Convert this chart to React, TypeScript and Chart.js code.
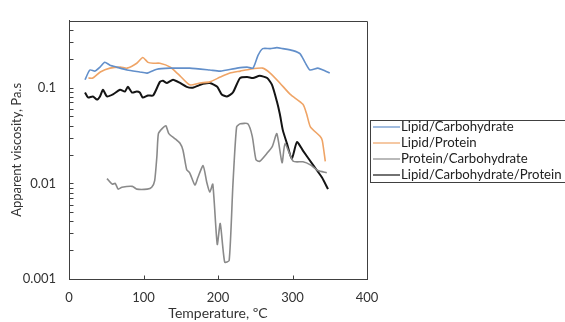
import { useEffect, useRef } from "react";
import { Chart, registerables } from "chart.js";

Chart.register(...registerables);

const seriesNames = [
  "Lipid/Carbohydrate",
  "Lipid/Protein",
  "Protein/Carbohydrate",
  "Lipid/Carbohydrate/Protein",
];
const seriesColors = ["#628fca", "#efa466", "#8a8a8a", "#141414"];
const seriesWidths = [1.6, 1.6, 1.6, 2];

const lcTemp = [21.5, 28, 35, 41.6, 48, 55, 64, 78, 95, 105, 118, 135.6, 149, 162, 189, 203, 225.5, 239, 247, 253.7, 260, 270, 279, 287, 300.7, 310, 316.8, 323.5, 334, 341, 350];
const lcVisc = [0.121, 0.153, 0.149, 0.164, 0.184, 0.172, 0.164, 0.153, 0.146, 0.142, 0.156, 0.16, 0.16, 0.16, 0.153, 0.149, 0.16, 0.164, 0.16, 0.217, 0.256, 0.256, 0.262, 0.256, 0.244, 0.227, 0.184, 0.153, 0.16, 0.153, 0.142];

const lpTemp = [26, 32, 42, 55, 69, 78, 91, 99, 106, 113, 122, 136, 145, 149, 162, 176, 189, 203, 216, 230, 243, 260, 270, 283, 297, 314, 319, 324, 337, 340, 344];
const lpVisc = [0.126, 0.126, 0.146, 0.16, 0.164, 0.16, 0.18, 0.207, 0.184, 0.18, 0.18, 0.164, 0.142, 0.133, 0.107, 0.112, 0.115, 0.129, 0.142, 0.149, 0.156, 0.16, 0.142, 0.112, 0.085, 0.067, 0.053, 0.039, 0.031, 0.028, 0.017];

const pcTemp = [51, 58, 62, 66, 71, 85, 91, 105, 111, 115, 118, 120, 125, 130, 134, 142, 149, 153, 158, 162, 169, 173, 180, 185, 189, 193, 199, 203, 209, 215, 220, 225, 230, 240, 246, 251, 256, 266, 273, 279, 286, 290, 301, 314, 324, 334, 346];
const pcVisc = [0.0112, 0.0098, 0.01, 0.0087, 0.0091, 0.0093, 0.0087, 0.0087, 0.0091, 0.0107, 0.0193, 0.0331, 0.0373, 0.04, 0.0331, 0.0294, 0.0262, 0.0222, 0.0139, 0.0129, 0.0096, 0.0115, 0.0153, 0.0102, 0.0081, 0.0098, 0.0023, 0.0038, 0.0015, 0.00156, 0.0096, 0.039, 0.0419, 0.0419, 0.031, 0.0176, 0.017, 0.0207, 0.0244, 0.0331, 0.0164, 0.026, 0.017, 0.0168, 0.0156, 0.0136, 0.0129];

const lcpTemp = [21.5, 25.5, 32, 37.6, 41.6, 45.6, 51, 59, 68.5, 75, 79, 84.6, 91, 95, 99, 106, 113, 122, 126, 131.5, 139.6, 149, 158, 166, 176, 180, 189, 199, 205, 212, 220, 229.5, 239, 247, 256, 266, 272.5, 279, 283, 287, 292.6, 299, 306, 314, 327.5, 339.6, 347.6];
const lcpVisc = [0.089, 0.079, 0.081, 0.075, 0.081, 0.095, 0.081, 0.085, 0.095, 0.091, 0.102, 0.089, 0.091, 0.089, 0.079, 0.083, 0.083, 0.115, 0.118, 0.112, 0.121, 0.112, 0.102, 0.1, 0.107, 0.11, 0.112, 0.102, 0.085, 0.081, 0.089, 0.126, 0.129, 0.126, 0.133, 0.126, 0.107, 0.072, 0.053, 0.036, 0.026, 0.018, 0.027, 0.022, 0.0156, 0.0115, 0.0087];

const xTickValues = [0, 100, 200, 300, 400];
const yLabelValues = [0.001, 0.01, 0.1];
const yMin = 0.001;
const yMax = 0.5;

const FONT = "Lato";
const TEXT = "#333333";
const AXIS = "#404040";

export default function App() {
  const ref = useRef<HTMLCanvasElement>(null);

  useEffect(() => {
    document.body.style.margin = "0";
    const toPts = (t: number[], v: number[]) => t.map((x, i) => ({ x, y: v[i] }));
    const temps = [lcTemp, lpTemp, pcTemp, lcpTemp];
    const viscs = [lcVisc, lpVisc, pcVisc, lcpVisc];

    const yTickList: number[] = [];
    for (let d = yMin; d < yMax * 1.01; d *= 10) {
      for (let k = 1; k <= 9; k++) {
        const v = Number((d * k).toPrecision(3));
        if (v <= yMax + 1e-12) yTickList.push(v);
      }
    }

    const framePlugin = {
      id: "frame",
      afterDraw(chart: any) {
        const { ctx, chartArea } = chart;
        const xs = chart.scales.x;
        const ys = chart.scales.y;
        ctx.save();
        ctx.strokeStyle = AXIS;
        ctx.lineWidth = 1;
        ctx.beginPath();
        const L = Math.round(chartArea.left) + 0.5;
        const R = Math.round(chartArea.right) + 0.5;
        const T = Math.round(chartArea.top) + 0.5;
        const B = Math.round(chartArea.bottom) + 0.5;
        ctx.moveTo(L, T);
        ctx.lineTo(R, T);
        ctx.lineTo(R, B);
        ctx.lineTo(L, B);
        ctx.closePath();
        for (const v of xTickValues) {
          const px = Math.round(xs.getPixelForValue(v)) + 0.5;
          if (px <= L + 1 || px >= R - 1) continue;
          ctx.moveTo(px, B);
          ctx.lineTo(px, B - 4);
        }
        for (const v of yTickList) {
          const py = Math.round(ys.getPixelForValue(v)) + 0.5;
          if (py <= T + 1 || py >= B - 1) continue;
          ctx.moveTo(L, py);
          ctx.lineTo(L + 4, py);
        }
        ctx.stroke();
        ctx.restore();
      },
    };

    const legendPlugin = {
      id: "boxLegend",
      afterDraw(chart: any) {
        const { ctx } = chart;
        const x0 = 370.5;
        const y0 = 120.5;
        const w = 200;
        const h = 62;
        ctx.save();
        ctx.fillStyle = "#ffffff";
        ctx.fillRect(x0, y0, w, h);
        ctx.strokeStyle = AXIS;
        ctx.lineWidth = 1;
        ctx.strokeRect(x0, y0, w, h);
        ctx.font = `13.2px ${FONT}`;
        ctx.textBaseline = "middle";
        ctx.textAlign = "left";
        chart.data.datasets.forEach((ds: any, i: number) => {
          const cy = 127 + i * 16;
          ctx.strokeStyle = ds.borderColor;
          ctx.lineWidth = 1.2;
          ctx.beginPath();
          ctx.moveTo(373, cy);
          ctx.lineTo(400, cy);
          ctx.stroke();
          ctx.fillStyle = "#222";
          ctx.fillText(ds.label, 401, cy);
        });
        ctx.restore();
      },
    };

    const chart = new Chart(ref.current!, {
      type: "line",
      data: {
        datasets: seriesNames.map((name, i) => ({
          label: name,
          data: toPts(temps[i], viscs[i]),
          borderColor: seriesColors[i],
          backgroundColor: seriesColors[i],
          borderWidth: seriesWidths[i],
          pointRadius: 0,
          tension: 0.2,
          fill: false,
        })),
      },
      options: {
        responsive: false,
        animation: false,
        devicePixelRatio: 1,
        layout: { padding: { left: 0, top: 14, right: 198, bottom: 0 } },
        plugins: {
          legend: { display: false },
          tooltip: { enabled: false },
        },
        scales: {
          x: {
            type: "linear",
            min: 0,
            max: 400,
            afterBuildTicks: (s: any) => {
              s.ticks = xTickValues.map((v) => ({ value: v }));
            },
            afterFit: (s: any) => {
              s.height = 43;
            },
            ticks: {
              padding: 11,
              color: TEXT,
              font: { family: FONT, size: 13 },
              autoSkip: false,
              maxRotation: 0,
            },
            grid: { drawOnChartArea: false, drawTicks: false },
            border: { display: true, color: AXIS, width: 1 },
            title: {
              display: true,
              text: "Temperature, ºC",
              color: TEXT,
              font: { family: FONT, size: 14 },
              padding: { top: 0, bottom: 0 },
            },
          },
          y: {
            type: "logarithmic",
            min: yMin,
            max: yMax,
            afterBuildTicks: (s: any) => {
              s.ticks = yTickList.map((v) => ({ value: v }));
            },
            afterFit: (s: any) => {
              s.width = 69;
            },
            ticks: {
              padding: 13,
              color: TEXT,
              font: { family: FONT, size: 13 },
              autoSkip: false,
              callback: (value: any) => {
                const v = Number(value);
                const hit = yLabelValues.find((l) => Math.abs(l - v) / l < 1e-6);
                return hit !== undefined ? String(hit) : "";
              },
            },
            grid: { drawOnChartArea: false, drawTicks: false },
            border: { display: true, color: AXIS, width: 1 },
            title: {
              display: true,
              text: "Apparent viscosity, Pa.s",
              color: TEXT,
              font: { family: FONT, size: 13 },
              padding: { top: 9, bottom: 0 },
            },
          },
        },
      },
      plugins: [framePlugin, legendPlugin],
    });
    return () => chart.destroy();
  }, []);

  return (
    <div style={{ width: 565, height: 322 }}>
      <canvas ref={ref} width={565} height={322} style={{ display: "block" }} />
    </div>
  );
}
